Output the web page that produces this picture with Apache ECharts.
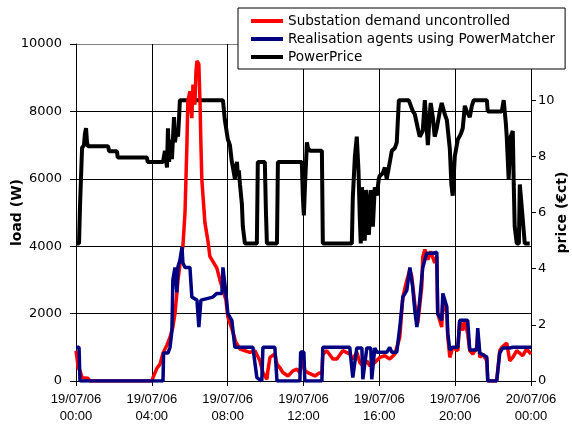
<!DOCTYPE html>
<html>
<head>
<meta charset="utf-8">
<script src="https://cdn.jsdelivr.net/npm/echarts@6/dist/echarts.min.js"></script>
<style>html,body{margin:0;padding:0;background:#fff}#c{width:572px;height:430px}</style>
</head>
<body>
<div id="c"></div>
<script>
// x tick labels (hours 0..24 every 4h)
const xTickLabels = ['19/07/06\n00:00','19/07/06\n04:00','19/07/06\n08:00','19/07/06\n12:00','19/07/06\n16:00','19/07/06\n20:00','20/07/06\n00:00'];
const seriesNames = ['Substation demand uncontrolled','Realisation agents using PowerMatcher','PowerPrice'];

// Substation demand uncontrolled (W)
const redHours = [0,0.05,0.11,0.21,0.32,0.63,0.74,4.01,4.06,4.27,4.43,4.59,4.80,4.96,5.11,5.22,5.32,5.38,5.54,5.64,5.75,5.80,5.85,5.90,6.01,6.06,6.11,6.17,6.22,6.27,6.33,6.38,6.48,6.54,6.59,6.64,6.80,6.96,7.06,7.22,7.43,7.59,7.75,7.91,8.01,8.22,8.43,8.65,9.17,9.44,9.70,9.86,10.07,10.12,10.23,10.49,10.60,10.75,10.91,11.18,11.44,11.65,11.81,11.97,12.07,12.23,12.60,12.86,12.97,13.02,13.23,13.55,13.76,14.07,14.44,14.60,14.81,14.97,15.13,15.34,15.50,15.76,16.02,16.29,16.55,16.82,17.08,17.24,17.45,17.61,17.71,17.87,18.03,18.24,18.29,18.40,18.56,18.71,18.92,19.03,19.08,19.29,19.35,19.56,19.61,19.72,19.87,20.14,20.24,20.40,20.51,20.66,20.77,20.93,21.14,21.19,21.30,21.45,21.67,21.72,22.19,22.35,22.46,22.72,22.88,23.04,23.25,23.56,23.77,24];
const redLoad  = [900,700,400,300,100,80,0,0,100,380,500,830,1070,1300,1600,2000,2600,3000,3700,4000,5000,6000,7000,8300,8600,8100,7800,8800,8400,8200,9200,9500,9400,8300,7000,5950,4700,4150,3700,3550,3350,3000,2700,2400,1900,1550,1150,950,850,900,600,250,50,300,700,800,500,400,250,150,300,350,250,700,300,250,150,250,200,800,900,650,650,900,800,650,850,550,450,600,450,550,700,750,650,800,1300,2490,2990,3300,3100,2300,1720,2800,3670,3900,3600,3850,3500,3700,2000,1600,2400,2000,1300,700,1000,900,1800,1500,1800,1400,900,800,1000,1400,700,800,600,0,0,900,1000,1125,600,700,900,750,950,800];

// Realisation agents using PowerMatcher (W)
const blueHours = [0,0.16,0.21,4.59,4.62,4.85,4.96,5.06,5.11,5.22,5.32,5.38,5.48,5.59,5.64,5.75,6.01,6.11,6.38,6.48,6.59,7.22,7.43,7.70,7.75,7.91,8.01,8.22,8.38,9.33,9.54,9.80,9.86,10.49,10.60,11.81,11.85,12.02,12.07,12.97,13.02,14.44,14.60,14.81,15.08,15.13,15.34,15.55,15.60,15.76,15.87,16.39,16.55,16.66,16.92,17.08,17.24,17.45,17.61,17.76,17.87,17.98,18.13,18.29,18.50,18.82,19.03,19.08,19.29,19.35,19.56,19.61,19.72,19.87,20.14,20.24,20.66,20.77,21.14,21.19,21.30,21.67,21.72,22.19,22.35,22.51,22.88,23.04,24];
const blueLoad  = [1000,1000,0,0,830,830,1000,1500,3000,3370,2630,3400,3580,3970,3500,3370,3370,2490,2400,1600,2400,2490,2600,2600,3370,2600,2000,1800,1000,1000,100,0,1000,1000,0,0,860,860,0,0,1000,1000,100,980,980,50,980,980,50,980,850,850,1000,850,850,1600,2490,2690,3370,2780,2100,1600,2400,3370,3790,3790,3820,2000,1800,2600,2200,1420,920,1000,1000,1800,1800,920,920,1570,830,710,0,0,830,980,980,1000,1000];

// PowerPrice (euro cent)
const priceHours = [0.05,0.16,0.21,0.32,0.42,0.47,0.53,0.58,0.63,1.69,1.75,2.16,2.20,3.74,3.78,4.59,4.69,4.80,4.85,4.91,5.01,5.06,5.17,5.22,5.32,5.38,5.43,5.48,7.75,7.85,8.01,8.12,8.22,8.28,8.38,8.43,8.49,8.54,8.59,8.65,8.75,8.80,8.91,9.54,9.59,9.96,10.02,10.07,10.60,10.65,11.91,11.97,12.02,12.07,12.18,12.23,12.34,12.97,13.02,14.55,14.60,14.71,14.81,14.90,14.97,15.02,15.08,15.13,15.23,15.30,15.34,15.45,15.55,15.66,15.76,15.87,15.97,16.02,16.18,16.29,16.39,16.50,16.66,16.82,16.92,17.03,17.55,17.77,17.87,18.03,18.13,18.29,18.40,18.50,18.56,18.66,18.71,18.82,18.92,19.03,19.19,19.29,19.45,19.56,19.72,19.80,19.87,19.98,20.14,20.30,20.40,20.51,20.61,20.77,20.88,20.98,21.67,21.72,22.46,22.56,22.67,22.72,22.82,22.93,23.04,23.09,23.14,23.25,23.36,23.41,23.51,23.56,23.67,23.93];
const priceValues = [4.9,4.9,6.2,8.3,8.4,8.8,9.0,8.5,8.36,8.36,8.18,8.18,7.96,7.96,7.8,7.8,8.2,7.6,9.0,7.8,8.6,7.9,9.4,8.5,9.0,8.7,9.3,10.0,10.0,9.3,8.6,8.4,7.8,7.6,7.2,7.6,7.8,7.3,7.5,7.0,6.3,5.5,4.9,4.9,7.8,7.8,6.0,4.9,4.9,7.8,7.8,6.5,5.9,6.8,8.5,8.3,8.2,8.2,4.9,4.9,6.5,8.0,8.7,7.5,5.8,4.9,6.9,6.5,5.0,6.8,6.5,5.2,6.8,5.5,6.9,6.6,7.2,7.3,7.4,7.6,7.2,7.6,8.2,8.3,8.5,10.0,10.0,9.6,9.5,9.0,8.7,8.9,10.0,9.0,8.4,9.5,9.9,9.4,8.7,9.0,9.6,9.9,9.5,9.3,8.25,7.0,6.6,8.0,8.6,8.8,9.0,9.8,9.6,9.4,9.8,10.0,10.0,9.6,9.6,10.0,9.2,8.7,7.2,8.7,8.9,7.0,5.5,4.9,4.9,7.0,7.0,5.8,4.9,4.9];

const pair = (xs, ys) => xs.map((x, i) => [x, ys[i]]);
const chart = echarts.init(document.getElementById('c'), null, {renderer: 'canvas'});
const labelFont = 'DejaVu Sans';
chart.setOption({
  animation: false,
  backgroundColor: '#fff',
  grid: {left: 76, right: 41, top: 44, bottom: 49, show: false, containLabel: false, outerBoundsMode: 'none'},
  legend: {
    orient: 'vertical', left: 238, top: 8, z: 10,
    padding: [5, 10, 4, 13], itemGap: 2,
    backgroundColor: '#fff', borderColor: '#000', borderWidth: 1,
    icon: 'rect', itemWidth: 32, itemHeight: 4,
    textStyle: {fontFamily: labelFont, fontSize: 13.6, color: '#000', lineHeight: 16},
    data: seriesNames
  },
  xAxis: {
    type: 'value', min: 0, max: 24, interval: 4,
    axisLine: {show: true, lineStyle: {color: '#000', width: 1}},
    axisTick: {show: true, length: 5, lineStyle: {color: '#000'}},
    axisLabel: {fontFamily: 'Liberation Sans', fontSize: 13, color: '#000', lineHeight: 17, margin: 10,
      formatter: v => xTickLabels[Math.round(v / 4)]},
    splitLine: {show: true, lineStyle: {color: '#000', width: 1}}
  },
  yAxis: [{
    type: 'value', min: 0, max: 10000, interval: 2000, position: 'left',
    name: 'load (W)', nameLocation: 'middle', nameGap: 52, nameRotate: 90, nameMoveOverlap: false,
    nameTextStyle: {fontFamily: labelFont, fontWeight: 'bold', fontSize: 14, color: '#000'},
    axisLine: {show: true, lineStyle: {color: '#000', width: 1}},
    axisTick: {show: true, length: 6, lineStyle: {color: '#000'}},
    axisLabel: {fontFamily: labelFont, fontSize: 13, color: '#000', margin: 14,
      formatter: v => String(v)},
    splitLine: {show: true, lineStyle: {color: ['#000','#000','#000','#000','#000','#808080'], width: 1}}
  }, {
    type: 'value', min: 0, max: 12, interval: 2, position: 'right',
    name: 'price (\u20acct)', nameLocation: 'middle', nameGap: 24, nameRotate: 90, nameMoveOverlap: false,
    nameTextStyle: {fontFamily: labelFont, fontWeight: 'bold', fontSize: 14, color: '#000'},
    axisLine: {show: true, lineStyle: {color: '#000', width: 1}},
    axisTick: {show: true, length: 5, lineStyle: {color: '#000'}},
    axisLabel: {fontFamily: labelFont, fontSize: 13, color: '#000', margin: 7,
      formatter: v => (v === 12 ? '' : String(v))},
    splitLine: {show: false}
  }],
  series: [{
    name: seriesNames[2], type: 'line', yAxisIndex: 1, showSymbol: false, symbol: 'none',
    color: '#000000', lineStyle: {color: '#000000', width: 4},
    data: pair(priceHours, priceValues)
  }, {
    name: seriesNames[0], type: 'line', yAxisIndex: 0, showSymbol: false, symbol: 'none',
    color: '#ff0000', lineStyle: {color: '#ff0000', width: 3.5},
    data: pair(redHours, redLoad)
  }, {
    name: seriesNames[1], type: 'line', yAxisIndex: 0, showSymbol: false, symbol: 'none',
    color: '#000080', lineStyle: {color: '#000080', width: 3.5},
    data: pair(blueHours, blueLoad)
  }]
});
</script>
</body>
</html>
